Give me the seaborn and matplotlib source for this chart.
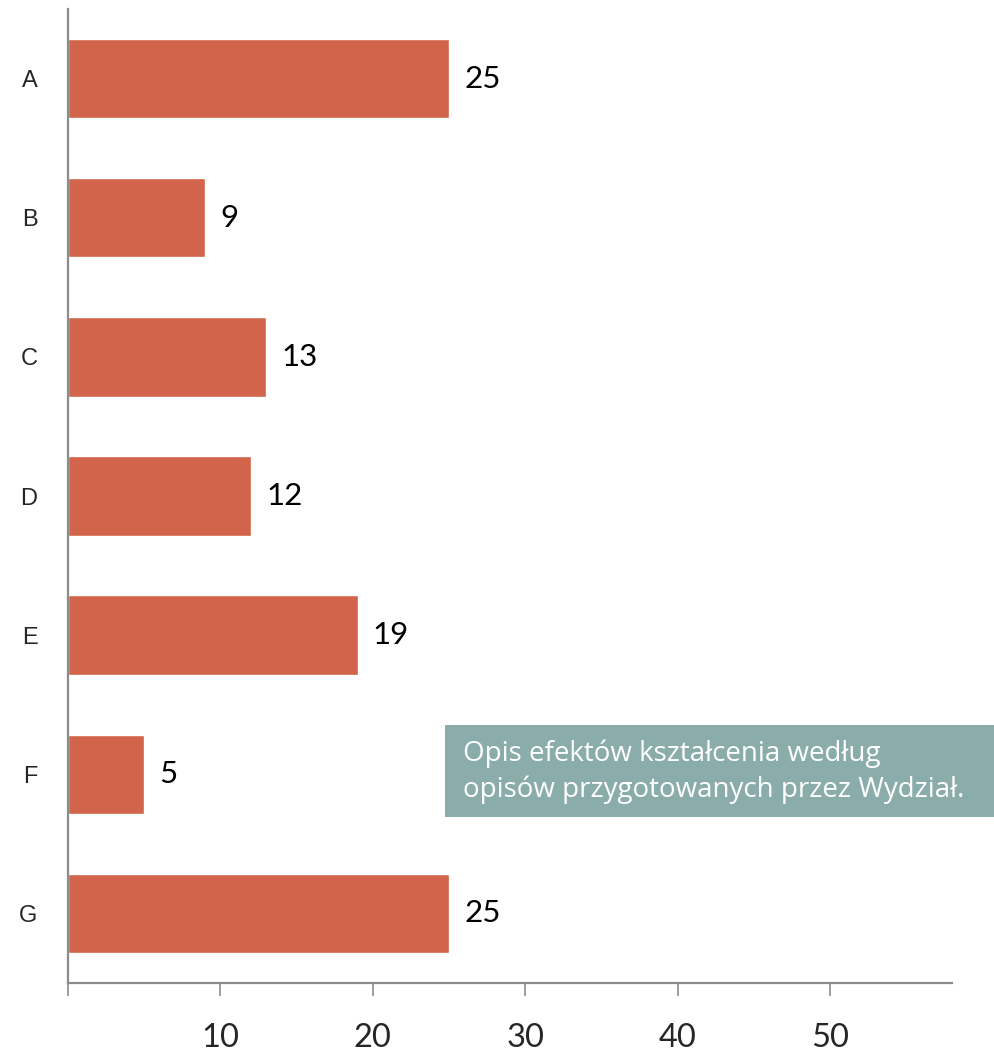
import matplotlib
matplotlib.use("Agg")
import matplotlib.pyplot as plt
import seaborn as sns
import pandas as pd
from matplotlib.patches import Rectangle

# chart data
categories = ["A", "B", "C", "D", "E", "F", "G"]
values = [25, 9, 13, 12, 19, 5, 25]
x_ticks = [0, 10, 20, 30, 40, 50]
x_tick_labels = ["", "10", "20", "30", "40", "50"]
note_text = "Opis efektów kształcenia według\nopisów przygotowanych przez Wydział."

BAR_COLOR = "#D1644B"
AXIS_COLOR = "#8C8C8C"
BOX_COLOR = "#8AADAB"

sns.set_style("white")
plt.rcParams['font.family'] = ['Lato', 'DejaVu Sans']

df = pd.DataFrame({"category": categories, "value": values})

fig = plt.figure(figsize=(9.94, 10.56), dpi=100)
ax = fig.add_axes([0.0684, 0.0691, 0.8894, 0.9224])

sns.barplot(data=df, x="value", y="category", orient="h", color=BAR_COLOR,
            saturation=1, width=0.57, ax=ax)

ax.set_xlim(0, 58)
ax.set_ylim(6.5, -0.5)
ax.set_xlabel("")
ax.set_ylabel("")

# value labels
ax.bar_label(ax.containers[0], labels=[str(v) for v in values], padding=11,
             fontsize=22.5, color="black")

# axes styling
for side in ["top", "right"]:
    ax.spines[side].set_visible(False)
for side in ["left", "bottom"]:
    ax.spines[side].set_color(AXIS_COLOR)
    ax.spines[side].set_linewidth(1.6)

ax.set_xticks(x_ticks)
ax.set_xticklabels(x_tick_labels, fontsize=23.5)
ax.tick_params(axis="x", bottom=True, direction="out", length=9, width=1.2,
               color=AXIS_COLOR, pad=20)
ax.tick_params(axis="y", left=False, length=0, pad=22)
for lbl in ax.get_yticklabels():
    lbl.set_fontsize(17)
    lbl.set_family(["Liberation Sans", "DejaVu Sans"])

# note box
fig.patches.append(Rectangle((445 / 994, 1 - 817 / 1056), (994 - 445) / 994, 92 / 1056,
                             transform=fig.transFigure, facecolor=BOX_COLOR,
                             edgecolor="none", zorder=5))
fig.text(463 / 994, 1 - 772 / 1056, note_text, fontsize=20, color="white",
         family=["Open Sans", "DejaVu Sans"],
         va="center", ha="left", linespacing=1.35, zorder=6)

fig.savefig("out.png", dpi=100)
